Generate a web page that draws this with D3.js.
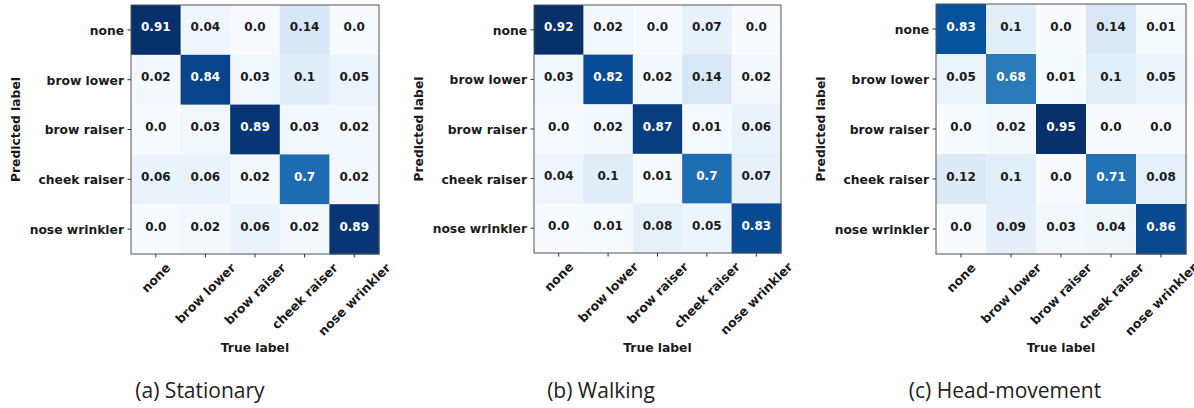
<!DOCTYPE html>
<html>
<head>
<meta charset="utf-8">
<script src="https://cdn.jsdelivr.net/npm/d3@7"></script>
<style>
  html, body { margin: 0; padding: 0; background: #fff; }
  svg { display: block; }
</style>
</head>
<body>
<svg id="chart" width="1194" height="408"></svg>
<script>
// Facial action classes (rows = predicted, columns = true)
const categories = ["none", "brow lower", "brow raiser", "cheek raiser", "nose wrinkler"];

// Normalised confusion matrices, one per recording condition
const stationary = [
  [0.91, 0.04, 0.0, 0.14, 0.0],
  [0.02, 0.84, 0.03, 0.1, 0.05],
  [0.0, 0.03, 0.89, 0.03, 0.02],
  [0.06, 0.06, 0.02, 0.7, 0.02],
  [0.0, 0.02, 0.06, 0.02, 0.89]
];
const walking = [
  [0.92, 0.02, 0.0, 0.07, 0.0],
  [0.03, 0.82, 0.02, 0.14, 0.02],
  [0.0, 0.02, 0.87, 0.01, 0.06],
  [0.04, 0.1, 0.01, 0.7, 0.07],
  [0.0, 0.01, 0.08, 0.05, 0.83]
];
const headMovement = [
  [0.83, 0.1, 0.0, 0.14, 0.01],
  [0.05, 0.68, 0.01, 0.1, 0.05],
  [0.0, 0.02, 0.95, 0.0, 0.0],
  [0.12, 0.1, 0.0, 0.71, 0.08],
  [0.0, 0.09, 0.03, 0.04, 0.86]
];
const captions = ["(a) Stationary", "(b) Walking", "(c) Head-movement"];
const xTitle = "True label";
const yTitle = "Predicted label";

// Panel geometry
const panels = [
  { m: stationary,   x: 131, y: 5, w: 248, h: 249, capX: 200 },
  { m: walking,      x: 534, y: 5, w: 247, h: 248, capX: 601 },
  { m: headMovement, x: 936, y: 4, w: 250, h: 250, capX: 1005 }
];

// Sequential "Blues" palette (ColorBrewer 9-class, linear between stops)
const bluesStops = ["#f7fbff","#deebf7","#c6dbef","#9ecae1","#6baed6","#4292c6","#2171b5","#08519c","#08306b"];

const fmt = v => { const s = String(v); return s.includes(".") ? s : s + ".0"; };
const labelFont = "'DejaVu Sans', sans-serif";

const svg = d3.select("#chart");

panels.forEach((p, pi) => {
  const vmax = d3.max(p.m.flat());
  const vmin = d3.min(p.m.flat());
  const color = d3.scaleLinear()
    .domain(d3.range(bluesStops.length).map(i => vmin + (vmax - vmin) * i / (bluesStops.length - 1)))
    .range(bluesStops)
    .interpolate(d3.interpolateRgb)
    .clamp(true);

  const xs = d3.scaleBand().domain(categories).range([0, p.w]);
  const ys = d3.scaleBand().domain(categories).range([0, p.h]);

  const g = svg.append("g").attr("transform", `translate(${p.x},${p.y})`);

  const cells = [];
  p.m.forEach((row, r) => row.forEach((v, c) => cells.push({ r, c, v })));

  g.selectAll("rect.cell").data(cells).join("rect")
    .attr("class", "cell")
    .attr("x", d => xs(categories[d.c]))
    .attr("y", d => ys(categories[d.r]))
    .attr("width", xs.bandwidth() + 0.5)
    .attr("height", ys.bandwidth() + 0.5)
    .attr("fill", d => color(d.v));

  const thresh = vmax / 2;
  g.selectAll("text.val").data(cells).join("text")
    .attr("class", "val")
    .attr("x", d => xs(categories[d.c]) + xs.bandwidth() / 2)
    .attr("y", d => ys(categories[d.r]) + ys.bandwidth() / 2 - 2.5)
    .attr("text-anchor", "middle")
    .attr("dominant-baseline", "central")
    .attr("font-family", labelFont)
    .attr("font-weight", "bold")
    .attr("font-size", 12)
    .attr("fill", d => d.v > thresh ? "#ffffff" : "#1a1a1a")
    .text(d => fmt(d.v));

  // frame
  g.append("rect")
    .attr("x", 0).attr("y", 0).attr("width", p.w).attr("height", p.h)
    .attr("fill", "none").attr("stroke", "#555").attr("stroke-width", 1);

  // left axis
  const yAxis = d3.axisLeft(ys).tickSize(3.5).tickPadding(3.5);
  const ya = g.append("g").call(yAxis);
  ya.select(".domain").remove();
  ya.selectAll(".tick line").attr("stroke", "#333");
  ya.selectAll(".tick text")
    .attr("font-family", labelFont)
    .attr("font-weight", "bold")
    .attr("font-size", 12.3)
    .attr("fill", "#1a1a1a")
    .attr("dy", "0.4em");

  // bottom axis with 45° labels centred under each tick
  const xAxis = d3.axisBottom(xs).tickSize(3.5).tickPadding(3.5);
  const xa = g.append("g").attr("transform", `translate(0,${p.h})`).call(xAxis);
  xa.select(".domain").remove();
  xa.selectAll(".tick line").attr("stroke", "#333");
  xa.selectAll(".tick text")
    .attr("font-family", labelFont)
    .attr("font-weight", "bold")
    .attr("font-size", 12.5)
    .attr("fill", "#1a1a1a")
    .attr("text-anchor", "middle")
    .attr("dominant-baseline", "central")
    .attr("y", null).attr("dy", null)
    .each(function () {
      const len = this.getComputedTextLength();
      const half = (len + 12.5) * Math.SQRT1_2 / 2;
      d3.select(this).attr("transform", `translate(0,${7 + half}) rotate(-45)`);
    });

  // axis titles
  g.append("text")
    .attr("x", p.w / 2).attr("y", 348 - p.y)
    .attr("text-anchor", "middle")
    .attr("dominant-baseline", "central")
    .attr("font-family", labelFont)
    .attr("font-weight", "bold")
    .attr("font-size", 12.3)
    .attr("fill", "#1a1a1a")
    .text(xTitle);

  g.append("text")
    .attr("transform", `translate(-115,${p.h / 2}) rotate(-90)`)
    .attr("text-anchor", "middle")
    .attr("dominant-baseline", "central")
    .attr("font-family", labelFont)
    .attr("font-weight", "bold")
    .attr("font-size", 12.3)
    .attr("fill", "#1a1a1a")
    .text(yTitle);

  // sub-figure caption
  svg.append("text")
    .attr("x", p.capX).attr("y", 398)
    .attr("text-anchor", "middle")
    .attr("font-family", "'Open Sans', Lato, sans-serif")
    .attr("font-size", 21)
    .attr("fill", "#222")
    .text(captions[pi]);
});
</script>
</body>
</html>
